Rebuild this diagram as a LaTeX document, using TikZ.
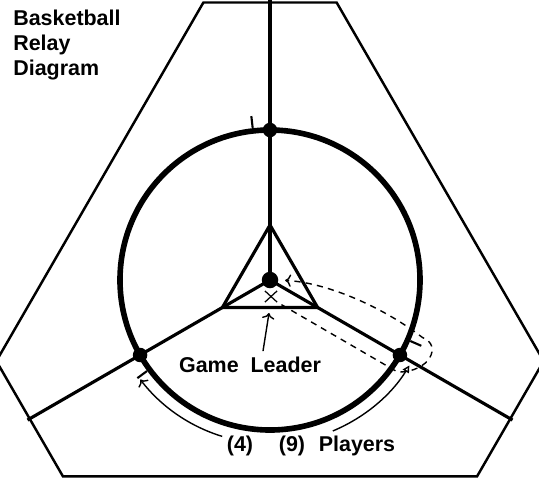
\documentclass[tikz,border=0pt]{standalone}
\usepackage{fontspec}
\setmainfont{Liberation Sans}
\usepackage{tikz}
\usetikzlibrary{arrows.meta,shapes.misc}

\tikzset{
  dot/.style={circle, fill, inner sep=0pt, minimum size=2.9mm},
  lbl/.style={font=\bfseries\fontsize{12.2}{14.2}\selectfont, inner sep=0pt},
  hop/.style={line width=0.8pt, ->},
}

\begin{document}
\begin{tikzpicture}
      \useasboundingbox (-5.4,-4.0) rectangle (5.38,5.6);
      \clip (-5.4,-4.0) rectangle (5.38,5.6);
      \draw [line width=1.4pt] (76.5:5.708) -- (103.5:5.708) -- (196.5:5.708) -- (223.5:5.708) -- (316.5:5.708) -- (343.5:5.708) -- cycle;
      \node [dot, minimum size=3.3mm] (L) at (0,0) {};
      \foreach \a/\n in {90/A,210/B,330/C} {
        \coordinate (\n') at (\a:5.6);
        \draw [line width=1.8pt] (L.center) to (\n');
      }
      \draw [line width=1.8pt] (90:1.1) to (210:1.1) to (330:1.1) to cycle;
      \draw [line width=3.2pt] (L.center) circle [radius=3];
      \foreach \a/\n in {90/A,210/B,330/C} {
        \node [dot] (\n) at (\a:3) {};
        \draw [line width=1.2pt] (\a+6.5:3.06) to (\a+6.5:3.3);
      }
      \node [cross out, draw, line width=0.7pt, minimum width=2.2mm, minimum height=2mm, inner sep=0pt] (X) at (0.02,-0.33) {};
      \node [lbl, anchor=north west, align=left] (T) at (-5.14,5.4) {Basketball\\Relay\\Diagram};
      \node [lbl, anchor=base] (G) at (-0.4,-1.84) {Game~~Leader};
      \coordinate (g) at (-0.02,-0.66);
      \draw [hop] ([xshift=2.6mm,yshift=1mm]G.north) to (g);
      \node [lbl, anchor=base] (P4) at (-0.6,-3.43) {(4)};
      \node [lbl, anchor=base] (P9) at (0.44,-3.43) {(9)};
      \node [lbl, anchor=base] (P) at (1.74,-3.43) {Players};
      \coordinate (s4) at (253:3.27);
      \coordinate (s9) at (292.6:3.27);
      \draw [hop] (s4) arc [start angle=253, end angle=217.5, radius=3.27];
      \draw [line width=0.8pt, -{Triangle[open, length=4pt, width=4pt]}] (s9) arc [start angle=292.6, end angle=328.5, radius=3.27];
      \draw [line width=0.8pt, dash pattern=on 3.5pt off 3pt, ->, shorten <=1mm, shorten >=1.3mm] (X.south east) to (2.55,-1.84) .. controls (3.2,-1.85) and (3.45,-1.3) .. (3.05,-1.15) .. controls (2.2,-0.5) and (1.1,-0.05) .. (L.east);
    \end{tikzpicture}
\end{document}
